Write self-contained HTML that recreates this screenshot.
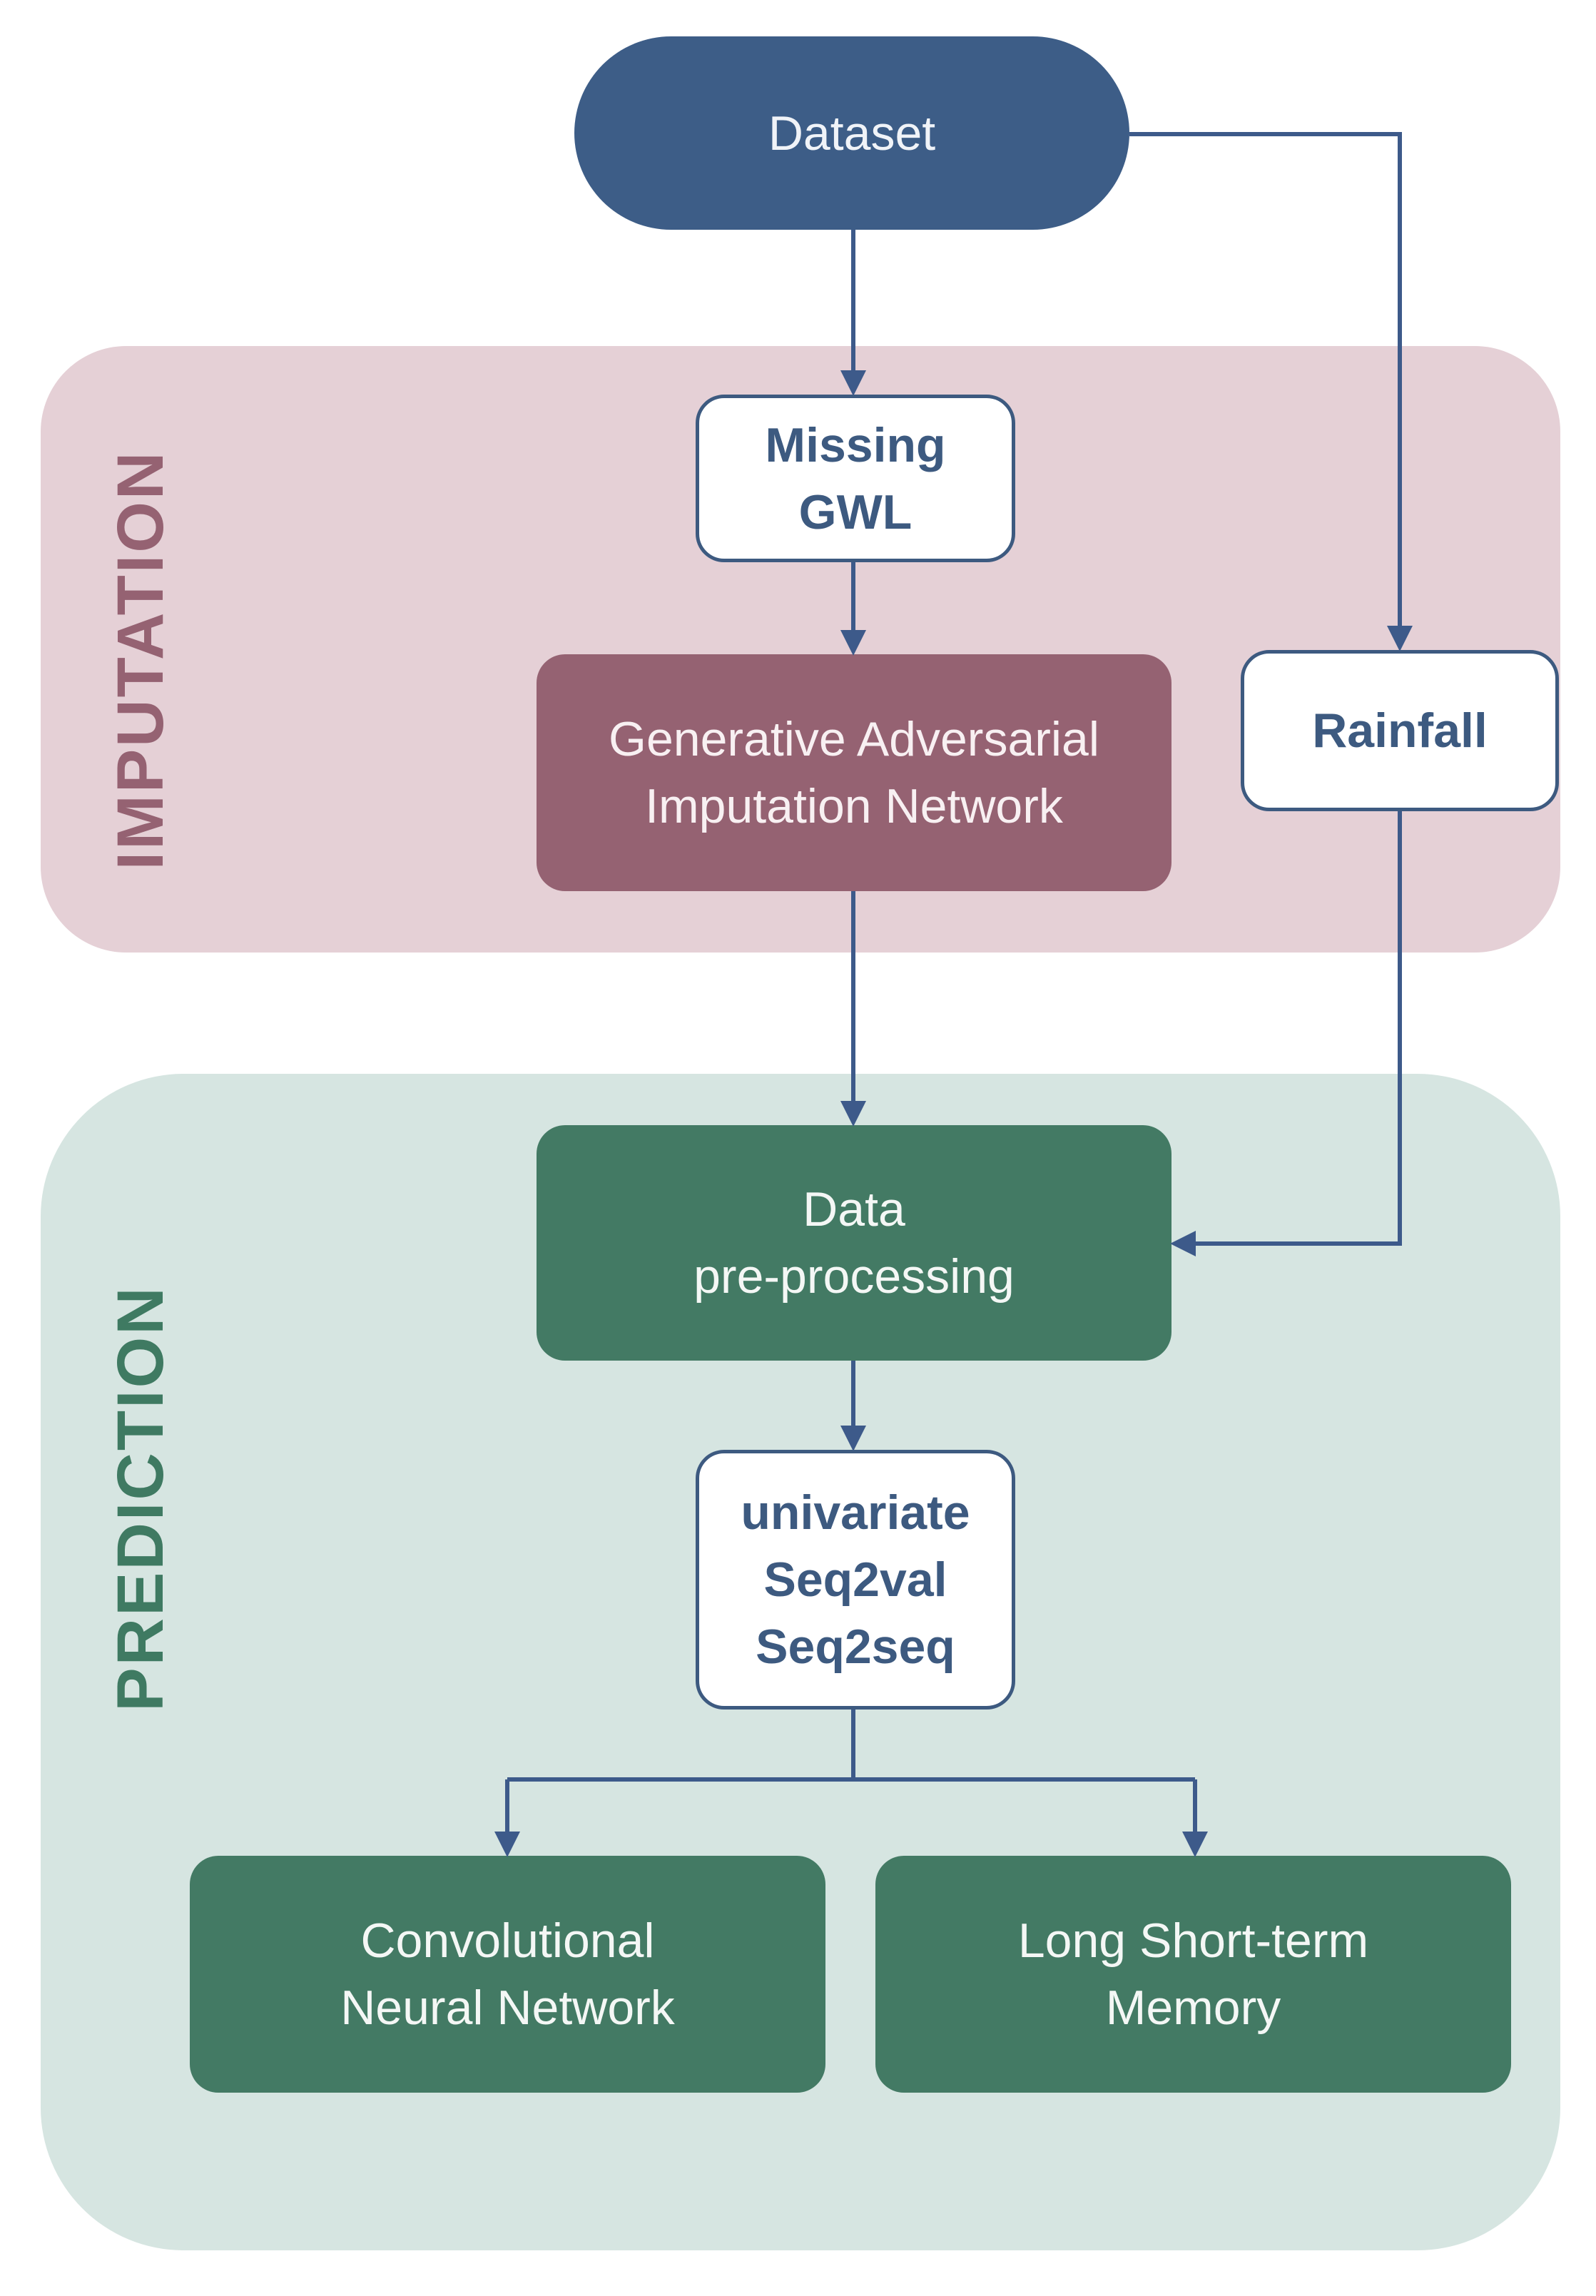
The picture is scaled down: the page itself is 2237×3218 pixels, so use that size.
<!DOCTYPE html>
<html><head><meta charset="utf-8"><style>
html,body{margin:0;padding:0;background:#fff;}
body{width:2237px;height:3218px;position:relative;overflow:hidden;font-family:"Liberation Sans",sans-serif;}
.a{position:absolute;box-sizing:border-box;display:flex;align-items:center;justify-content:center;text-align:center;}
.t{font-size:68px;line-height:94px;}
.w{background:#fff;border:5px solid #3d5a80;border-radius:40px;color:#3d5a80;font-weight:bold;}
.g{background:#437a64;border-radius:40px;color:#f4f7f5;}
</style></head><body>
<div class="a" style="left:57px;top:485px;width:2130px;height:850px;background:#e5d0d6;border-radius:120px;"></div>
<div class="a" style="left:57px;top:1505px;width:2130px;height:1649px;background:#d6e5e1;border-radius:200px;"></div>
<div class="a" style="left:-110px;top:870px;width:614px;height:110px;transform:rotate(-90deg);color:#956272;font-size:92px;font-weight:bold;letter-spacing:3px;">IMPUTATION</div>
<div class="a" style="left:-110px;top:2045px;width:614px;height:110px;transform:rotate(-90deg);color:#3f7a62;font-size:92px;font-weight:bold;letter-spacing:3px;">PREDICTION</div>
<div class="a t" style="left:805px;top:51px;width:778px;height:271px;background:#3d5d87;border-radius:136px;color:#f0f3f8;">Dataset</div>
<div class="a t w" style="left:975px;top:553px;width:448px;height:235px;">Missing<br>GWL</div>
<div class="a t" style="left:752px;top:917px;width:890px;height:332px;background:#956272;border-radius:40px;color:#f8f0f2;">Generative Adversarial<br>Imputation Network</div>
<div class="a t w" style="left:1739px;top:911px;width:446px;height:226px;">Rainfall</div>
<div class="a t g" style="left:752px;top:1577px;width:890px;height:330px;">Data<br>pre-processing</div>
<div class="a t w" style="left:975px;top:2032px;width:448px;height:364px;">univariate<br>Seq2val<br>Seq2seq</div>
<div class="a t g" style="left:266px;top:2601px;width:891px;height:332px;">Convolutional<br>Neural Network</div>
<div class="a t g" style="left:1227px;top:2601px;width:891px;height:332px;">Long Short-term<br>Memory</div>
<svg style="position:absolute;left:0;top:0" width="2237" height="3218">
<defs><marker id="m" markerWidth="6" markerHeight="6" refX="5" refY="3" orient="auto" markerUnits="strokeWidth"><path d="M0,0 L6,3 L0,6 z" fill="#3d5a8a"/></marker></defs>
<g stroke="#3d5a8a" stroke-width="6" fill="none">
<path d="M1196 322 V549" marker-end="url(#m)"/>
<path d="M1196 788 V913" marker-end="url(#m)"/>
<path d="M1196 1249 V1573" marker-end="url(#m)"/>
<path d="M1196 1907 V2028" marker-end="url(#m)"/>
<path d="M1583 188 H1962 V907" marker-end="url(#m)"/>
<path d="M1962 1137 V1743 H1646" marker-end="url(#m)"/>
<path d="M1196 2396 V2494"/>
<path d="M711 2494 H1675"/>
<path d="M711 2494 V2597" marker-end="url(#m)"/>
<path d="M1675 2494 V2597" marker-end="url(#m)"/>
</g></svg>
</body></html>
